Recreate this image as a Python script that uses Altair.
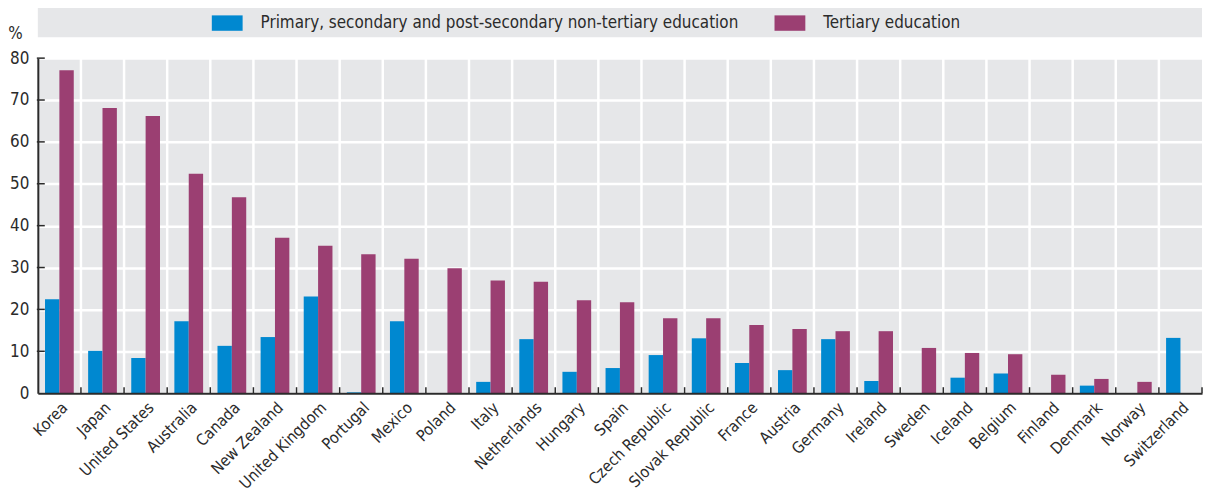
import altair as alt
import pandas as pd

countries = ["Korea", "Japan", "United States", "Australia", "Canada", "New Zealand",
             "United Kingdom", "Portugal", "Mexico", "Poland", "Italy", "Netherlands",
             "Hungary", "Spain", "Czech Republic", "Slovak Republic", "France", "Austria",
             "Germany", "Ireland", "Sweden", "Iceland", "Belgium", "Finland", "Denmark",
             "Norway", "Switzerland"]
primary = [22.4, 10.1, 8.4, 17.2, 11.3, 13.4, 23.1, 0.2, 17.2, None, 2.7, 12.9,
           5.1, 6.0, 9.1, 13.1, 7.2, 5.5, 12.9, 2.9, None, 3.7, 4.7, None, 1.8,
           None, 13.2]
tertiary = [77.1, 68.1, 66.2, 52.4, 46.8, 37.1, 35.2, 33.2, 32.1, 29.8, 26.9, 26.6,
            22.2, 21.7, 17.9, 17.9, 16.3, 15.3, 14.8, 14.8, 10.8, 9.6, 9.3, 4.4, 3.4,
            2.7, None]
series_names = ["Primary, secondary and post-secondary non-tertiary education",
                "Tertiary education"]
y_ticks = [0, 10, 20, 30, 40, 50, 60, 70, 80]

FONT = "Liberation Sans Narrow, Arial Narrow, DejaVu Sans Condensed, sans-serif"
W, H = 1171, 337
BLUE, PURPLE = "#0088d0", "#9b3f72"
TEXT = "#2b2b2b"

rows = []
for c, p, t in zip(countries, primary, tertiary):
    if p is not None:
        rows.append({"country": c, "series": series_names[0], "value": p})
    if t is not None:
        rows.append({"country": c, "series": series_names[1], "value": t})
df = pd.DataFrame(rows)

xscale = alt.Scale(domain=countries, paddingInner=0, paddingOuter=0)
xaxis = alt.Axis(title=None, labelAngle=-45, labelFontSize=16, labelFont=FONT,
                 labelColor=TEXT, labelPadding=6, ticks=False, grid=False,
                 domainColor=TEXT, domainWidth=2, zindex=1, labelAlign="right",
                 labelBaseline="top")
yscale = alt.Scale(domain=[0, 80], nice=False)
yaxis = alt.Axis(values=y_ticks, grid=True, gridColor="white", gridWidth=2.5,
                 ticks=False, domainColor=TEXT, domainWidth=2, labelFontSize=17,
                 labelFont=FONT, labelColor=TEXT, labelPadding=9, title="%",
                 titleAngle=0, titleX=-23, titleY=-20, titleAlign="center",
                 titleBaseline="alphabetic", titleFontSize=17, titleFont=FONT,
                 titleFontWeight="normal", titleColor=TEXT, zindex=0)


def X(**kw):
    return alt.X("country:N", scale=xscale, axis=xaxis, **kw)


def Y():
    return alt.Y("value:Q", scale=yscale, axis=yaxis)


legend_band = alt.Chart(pd.DataFrame({"a": [0]})).mark_rect(color="#e6e7e9").encode(
    x=alt.value(0), x2=alt.value(W), y=alt.value(-51), y2=alt.value(-21))

vgrid = alt.Chart(pd.DataFrame({"country": countries[1:]})).mark_rule(
    color="white", strokeWidth=2.5).encode(
    x=X(bandPosition=0), y=alt.value(0), y2=alt.value(H))

bars = alt.Chart(df).mark_bar().encode(
    x=X(),
    xOffset=alt.XOffset("series:N", sort=series_names,
                        scale=alt.Scale(domain=series_names, paddingInner=0,
                                        paddingOuter=0.5)),
    y=Y(),
    color=alt.Color("series:N", sort=series_names,
                    scale=alt.Scale(domain=series_names, range=[BLUE, PURPLE]),
                    legend=alt.Legend(orient="none", legendX=175, legendY=-51,
                                      direction="horizontal", title=None,
                                      symbolType="M-1,-0.5H1V0.5H-1Z", symbolSize=961,
                                      symbolStrokeWidth=0, labelFontSize=17,
                                      labelFont=FONT, labelColor=TEXT, labelOffset=18,
                                      columnPadding=36, labelLimit=800, padding=0)),
)

xticks = alt.Chart(pd.DataFrame({"country": countries[1:]})).mark_rule(
    color=TEXT, strokeWidth=1.5).encode(
    x=X(bandPosition=0), y=alt.value(H - 6), y2=alt.value(H))

xend = alt.Chart(pd.DataFrame({"a": [0]})).mark_rule(color=TEXT, strokeWidth=1.5).encode(
    x=alt.value(W), y=alt.value(H - 6), y2=alt.value(H))

yticks = alt.Chart(pd.DataFrame({"value": y_ticks[1:]})).mark_rule(
    color=TEXT, strokeWidth=1.5).encode(
    y=Y(), x=alt.value(-1), x2=alt.value(7))

chart = alt.layer(legend_band, vgrid, bars, xticks, xend, yticks).properties(
    width=W, height=H,
    padding={"left": 30, "top": 49, "right": 2, "bottom": 101},
    autosize=alt.AutoSizeParams(type="none"),
).configure_view(fill="#e6e7e9", stroke=None)

chart.save("out.html", embed_options={"renderer": "svg", "actions": False})
